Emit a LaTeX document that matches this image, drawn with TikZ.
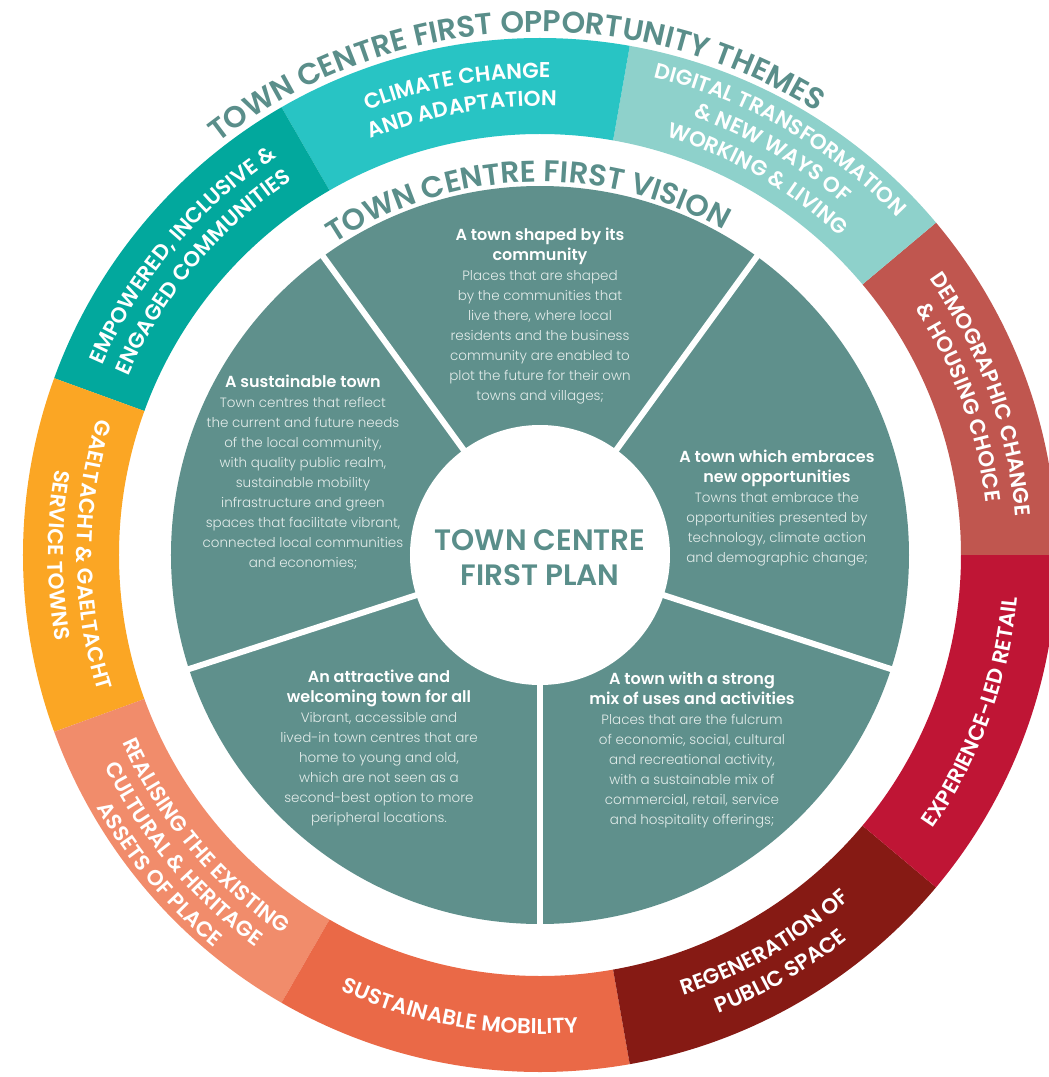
\documentclass[tikz,border=0pt]{standalone}
\usepackage{fontspec}
\setmainfont{Poppins}[UprightFont=* Light, BoldFont=* SemiBold]
\newfontfamily\semifont{Poppins}[UprightFont=* SemiBold]
\usetikzlibrary{decorations.text}

% palette
\definecolor{pie}{HTML}{5F908C}
\definecolor{titletxt}{HTML}{5A8E8A}
\definecolor{bodytxt}{HTML}{E4EDEB}
\definecolor{cDemog}{HTML}{C0564F}
\definecolor{cDigital}{HTML}{8ED1CB}
\definecolor{cClimate}{HTML}{28C4C4}
\definecolor{cEmpower}{HTML}{02A89D}
\definecolor{cGael}{HTML}{FBA624}
\definecolor{cRealise}{HTML}{F18C6B}
\definecolor{cMobility}{HTML}{EA6947}
\definecolor{cRegen}{HTML}{861A14}
\definecolor{cRetail}{HTML}{BF1535}

% one annular sector of the outer ring: start angle, end angle, colour
\newcommand\ringsector[3]{\fill[#3] (#1:421) arc[start angle=#1,end angle=#2,radius=421]
  -- (#2:517) arc[start angle=#2,end angle=#1,radius=517] -- cycle;}
% text set along a circular arc: radius, start angle, end angle, format, text
\newcommand\curvedtext[5]{\path[decorate,decoration={text along path,text align=center,
  text={|#4|#5}}] (#2:#1) arc[start angle=#2,end angle=#3,radius=#1];}
\newcommand\ringfont{\semifont\fontsize{21.5}{21.5}\selectfont\color{white}}
\newcommand\titlefont{\semifont\fontsize{30}{30}\selectfont\color{titletxt}}
\newcommand\hd[1]{{\bfseries\color{white}\fontsize{16}{20}\selectfont #1}}

\tikzset{
  pietext/.style={align=center, text=bodytxt, font=\fontsize{13.5}{20}\selectfont, inner sep=0pt},
  plantext/.style={align=center, text=titletxt, font=\semifont\fontsize{29.5}{35}\selectfont, inner sep=0pt},
  divider/.style={white, line width=6pt}
}

\begin{document}
\begin{tikzpicture}[x=1pt,y=1pt]
\useasboundingbox (-540,-522) rectangle (509,555);
\coordinate (O) at (0,0);

% outer ring of opportunity themes
\ringsector{0}{40}{cDemog}
\ringsector{40}{80}{cDigital}
\ringsector{80}{120}{cClimate}
\ringsector{120}{160}{cEmpower}
\ringsector{160}{200}{cGael}
\ringsector{200}{240}{cRealise}
\ringsector{240}{280}{cMobility}
\ringsector{280}{320}{cRegen}
\ringsector{320}{360}{cRetail}

% vision disc split into five parts
\fill[pie] (O) circle[radius=369];
\foreach \a in {54,126,198,270,342}
  \draw[divider] (O) -- (\a:385);
\fill[white] (O) circle[radius=130];

% arc titles
\curvedtext{523}{129}{57}{\titlefont}{TOWN CENTRE FIRST OPPORTUNITY THEMES}
\curvedtext{373}{125}{59}{\titlefont}{TOWN CENTRE FIRST VISION}

% ring labels (clockwise arcs: letters face outwards)
\curvedtext{477}{40}{0}{\ringfont}{DEMOGRAPHIC CHANGE}
\curvedtext{449}{40}{0}{\ringfont}{{\&} HOUSING CHOICE}
\curvedtext{491}{80}{40}{\ringfont}{DIGITAL TRANSFORMATION}
\curvedtext{464}{80}{40}{\ringfont}{{\&} NEW WAYS OF}
\curvedtext{437}{80}{40}{\ringfont}{WORKING {\&} LIVING}
\curvedtext{477}{120}{80}{\ringfont}{CLIMATE CHANGE}
\curvedtext{449}{120}{80}{\ringfont}{AND ADAPTATION}
\curvedtext{477}{160}{120}{\ringfont}{EMPOWERED, INCLUSIVE {\&}}
\curvedtext{449}{160}{120}{\ringfont}{ENGAGED COMMUNITIES}
% ring labels (anticlockwise arcs: letters face the centre)
\curvedtext{463}{160}{200}{\ringfont}{GAELTACHT {\&} GAELTACHT}
\curvedtext{492}{160}{200}{\ringfont}{SERVICE TOWNS}
\curvedtext{458}{200}{240}{\ringfont}{REALISING THE EXISTING}
\curvedtext{484}{200}{240}{\ringfont}{CULTURAL {\&} HERITAGE}
\curvedtext{510}{200}{240}{\ringfont}{ASSETS OF PLACE}
\curvedtext{479}{240}{280}{\ringfont}{SUSTAINABLE MOBILITY}
\curvedtext{463}{280}{320}{\ringfont}{REGENERATION OF}
\curvedtext{492}{280}{320}{\ringfont}{PUBLIC SPACE}
\curvedtext{479}{320}{360}{\ringfont}{EXPERIENCE-LED RETAIL}

% centre
\node[plantext] (plan) at (0,-2.5) {TOWN CENTRE\\FIRST PLAN};

% vision statements
\node[pietext] (community) at (0,238.5) {\hd{A town shaped by its}\\\hd{community}\\
  Places that are shaped\\by the communities that\\live there, where local\\
  residents and the business\\community are enabled to\\plot the future for their own\\
  towns and villages;};
\node[pietext] (sustainable) at (-237,82.5) {\hd{A sustainable town}\\
  Town centres that reflect\\the current and future needs\\of the local community,\\
  with quality public realm,\\sustainable mobility\\infrastructure and green\\
  spaces that facilitate vibrant,\\connected local communities\\and economies;};
\node[pietext] (embraces) at (237,47) {\hd{A town which embraces}\\\hd{new opportunities}\\
  Towns that embrace the\\opportunities presented by\\technology, climate action\\
  and demographic change;};
\node[pietext] (welcoming) at (-161,-193) {\hd{An attractive and}\\\hd{welcoming town for all}\\
  Vibrant, accessible and\\lived-in town centres that are\\home to young and old,\\
  which are not seen as a\\second-best option to more\\peripheral locations.};
\node[pietext] (mixed) at (152,-195) {\hd{A town with a strong}\\\hd{mix of uses and activities}\\
  Places that are the fulcrum\\of economic, social, cultural\\and recreational activity,\\
  with a sustainable mix of\\commercial, retail, service\\and hospitality offerings;};
\end{tikzpicture}
\end{document}
